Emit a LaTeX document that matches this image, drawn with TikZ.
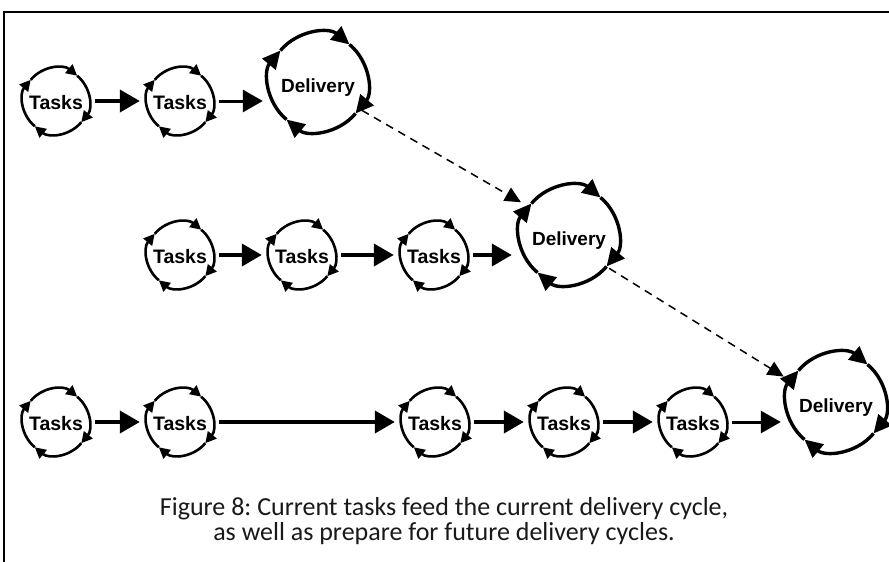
\documentclass[tikz,border=0pt]{standalone}
\usepackage{fontspec}
\setmainfont{Carlito}
\newfontfamily\labelfont{Liberation Sans}
\usetikzlibrary{arrows.meta}

% four clockwise arcs with arrowheads round a cycle node
\newcommand\cyclearrows[3]{%
  \foreach \a in {140,50,-40,-130}{%
    \draw[#3] ([shift={(\a:#2pt)}]#1.center) arc[start angle=\a, end angle=\a-90, radius=#2pt];
  }%
}

\tikzset{
  x=1pt, y=1pt,
  task/.style={circle, minimum size=66pt, inner sep=0pt, text height=17.6pt, text depth=0pt,
    font=\labelfont\bfseries\fontsize{19.5}{19.5}\selectfont},
  delivery/.style={circle, minimum size=100pt, inner sep=0pt, text height=21.6pt, text depth=0pt,
    font=\labelfont\bfseries\fontsize{19}{19}\selectfont},
  smallcycle/.style={line width=2.6pt, -{Triangle[length=11pt,width=11pt]}},
  bigcycle/.style={line width=3.4pt, -{Triangle[length=18pt,width=17pt]}},
  flow/.style={line width=4pt, -{Triangle[length=20pt,width=22pt]}, shorten <=6pt, shorten >=7pt},
  thinflow/.style={line width=3pt, -{Triangle[length=20pt,width=22pt]}, shorten <=6pt, shorten >=5pt},
  future/.style={line width=1.5pt, dash pattern=on 8pt off 6pt, -{Triangle[length=16pt,width=15pt]}, shorten <=2pt, shorten >=8pt},
  captiontext/.style={font=\fontsize{26}{26}\selectfont, text=black!90, inner sep=0pt, anchor=base},
  frame/.style={line width=2.2pt}
}

\begin{document}
\frenchspacing
\begin{tikzpicture}
  \useasboundingbox (0,0) rectangle (889,-562);
  \draw[frame] (4,-562) -- (4,-12) -- (889,-12);

  % first row
  \node[task] (t11) at (56,-101) {Tasks};
  \node[task] (t12) at (180,-101) {Tasks};
  \node[delivery] (d1) at (318,-82) {Delivery};

  % second row
  \node[task] (t21) at (180,-255) {Tasks};
  \node[task] (t22) at (302,-255) {Tasks};
  \node[task] (t23) at (434,-255) {Tasks};
  \node[delivery] (d2) at (569,-235) {Delivery};

  % third row
  \node[task] (t31) at (56,-422) {Tasks};
  \node[task] (t32) at (180,-422) {Tasks};
  \node[task] (t33) at (435,-422) {Tasks};
  \node[task] (t34) at (564,-422) {Tasks};
  \node[task] (t35) at (693,-422) {Tasks};
  \node[delivery] (d3) at (836,-402) {Delivery};

  % cycle arrows
  \foreach \n in {t11,t12,t21,t22,t23,t31,t32,t33,t34,t35}{\cyclearrows{\n}{33}{smallcycle}}
  \foreach \n in {d1,d2,d3}{\cyclearrows{\n}{49}{bigcycle}}

  % flows between cycles
  \draw[flow] (t11) -- (t12);
  \draw[thinflow] (t12.east) -- (t12.east -| d1.west);
  \draw[flow] (t21) -- (t22);
  \draw[flow] (t22) -- (t23);
  \draw[flow] (t23.east) -- (t23.east -| d2.west);
  \draw[flow] (t31) -- (t32);
  \draw[flow] (t32) -- (t33);
  \draw[flow] (t33) -- (t34);
  \draw[flow] (t34) -- (t35);
  \draw[thinflow] (t35.east) -- (t35.east -| d3.west);

  % preparation for later deliveries
  \draw[future] (d1.-33) -- (d2.145);
  \draw[future] (d2.-40) -- (d3.155);

  % caption
  \node[captiontext] (cap1) at (444,-515) {Figure 8: Current tasks feed the current delivery cycle,};
  \node[captiontext] (cap2) at (444,-540) {as well as prepare for future delivery cycles.};
\end{tikzpicture}
\end{document}
